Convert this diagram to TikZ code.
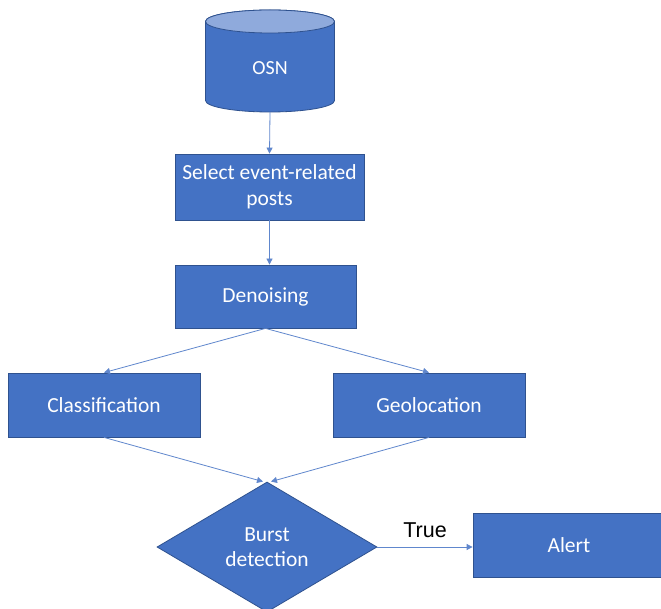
\documentclass[tikz,border=0pt]{standalone}
\usepackage{fontspec}
\setmainfont{Carlito}
\newfontfamily\arialf{Liberation Sans}
\usetikzlibrary{shapes.geometric,arrows.meta}
\definecolor{offblue}{HTML}{4472C4}
\definecolor{offedge}{HTML}{2F528F}
\definecolor{offlight}{HTML}{8FAADC}
\tikzset{
  box/.style={rectangle, draw=offedge, fill=offblue, line width=0.8pt, text=white,
    font=\fontsize{21.5}{26}\selectfont, align=center, inner sep=0pt},
  dec/.style={diamond, draw=offedge, fill=offblue, line width=0.8pt, text=white,
    font=\fontsize{21.5}{25}\selectfont, align=center, inner sep=0pt},
  conn/.style={draw=offblue!85!white, line width=0.8pt,
    -{Triangle[width=6pt,length=6pt]}},
  lbl/.style={font=\arialf\fontsize{21.5}{24}\selectfont, text=black, inner sep=0pt}
}
\begin{document}
\begin{tikzpicture}[x=1pt,y=-1pt]
\clip (0,0) rectangle (661,609);
\fill[white] (0,0) rectangle (661,609);
% cylinder
\filldraw[fill=offblue, draw=offedge, line width=0.8pt]
  (205.5,21.5) -- (205.5,100.5) arc[start angle=180,end angle=360,x radius=64.5,y radius=-11.5]
  -- (334.5,21.5) arc[start angle=0,end angle=180,x radius=64.5,y radius=-11.5] -- cycle;
\filldraw[fill=offlight, draw=offedge, line width=0.8pt] (270,21.5) ellipse[x radius=64.5,y radius=11.5];
\node[text=white, font=\fontsize{20}{25}\selectfont, inner sep=0pt] (osn) at (270,68) {OSN};
\coordinate (osnbot) at (270,112);
% boxes
\node[box, minimum width=189pt, minimum height=66pt] (sel) at (269.5,187) {Select event-related\\posts};
\node[box, minimum width=181pt, minimum height=63pt] (den) at (265.5,296.5) {Denoising};
\node[box, minimum width=192pt, minimum height=64pt] (cls) at (104,405) {Classification};
\node[box, minimum width=192pt, minimum height=64pt] (geo) at (429,405) {Geolocation};
\node[dec, minimum width=220pt, minimum height=130pt] (dia) at (267,547) {Burst\\detection};
\node[box, minimum width=192pt, minimum height=64pt] (alert) at (569,545.5) {Alert};
% connectors
\draw[conn] (osnbot) -- (sel.north);
\draw[conn] (sel.south) -- (sel.south |- den.north);
\draw[conn] (den.south) -- (cls.north);
\draw[conn] (den.south) -- (geo.north);
\draw[conn] (cls.south) -- ([xshift=-4pt]dia.north);
\draw[conn] (geo.south) -- ([xshift=4pt]dia.north);
\draw[conn] (dia.east) -- (dia.east -| alert.west) node[lbl, midway, above=9pt] {True};
\end{tikzpicture}
\end{document}
